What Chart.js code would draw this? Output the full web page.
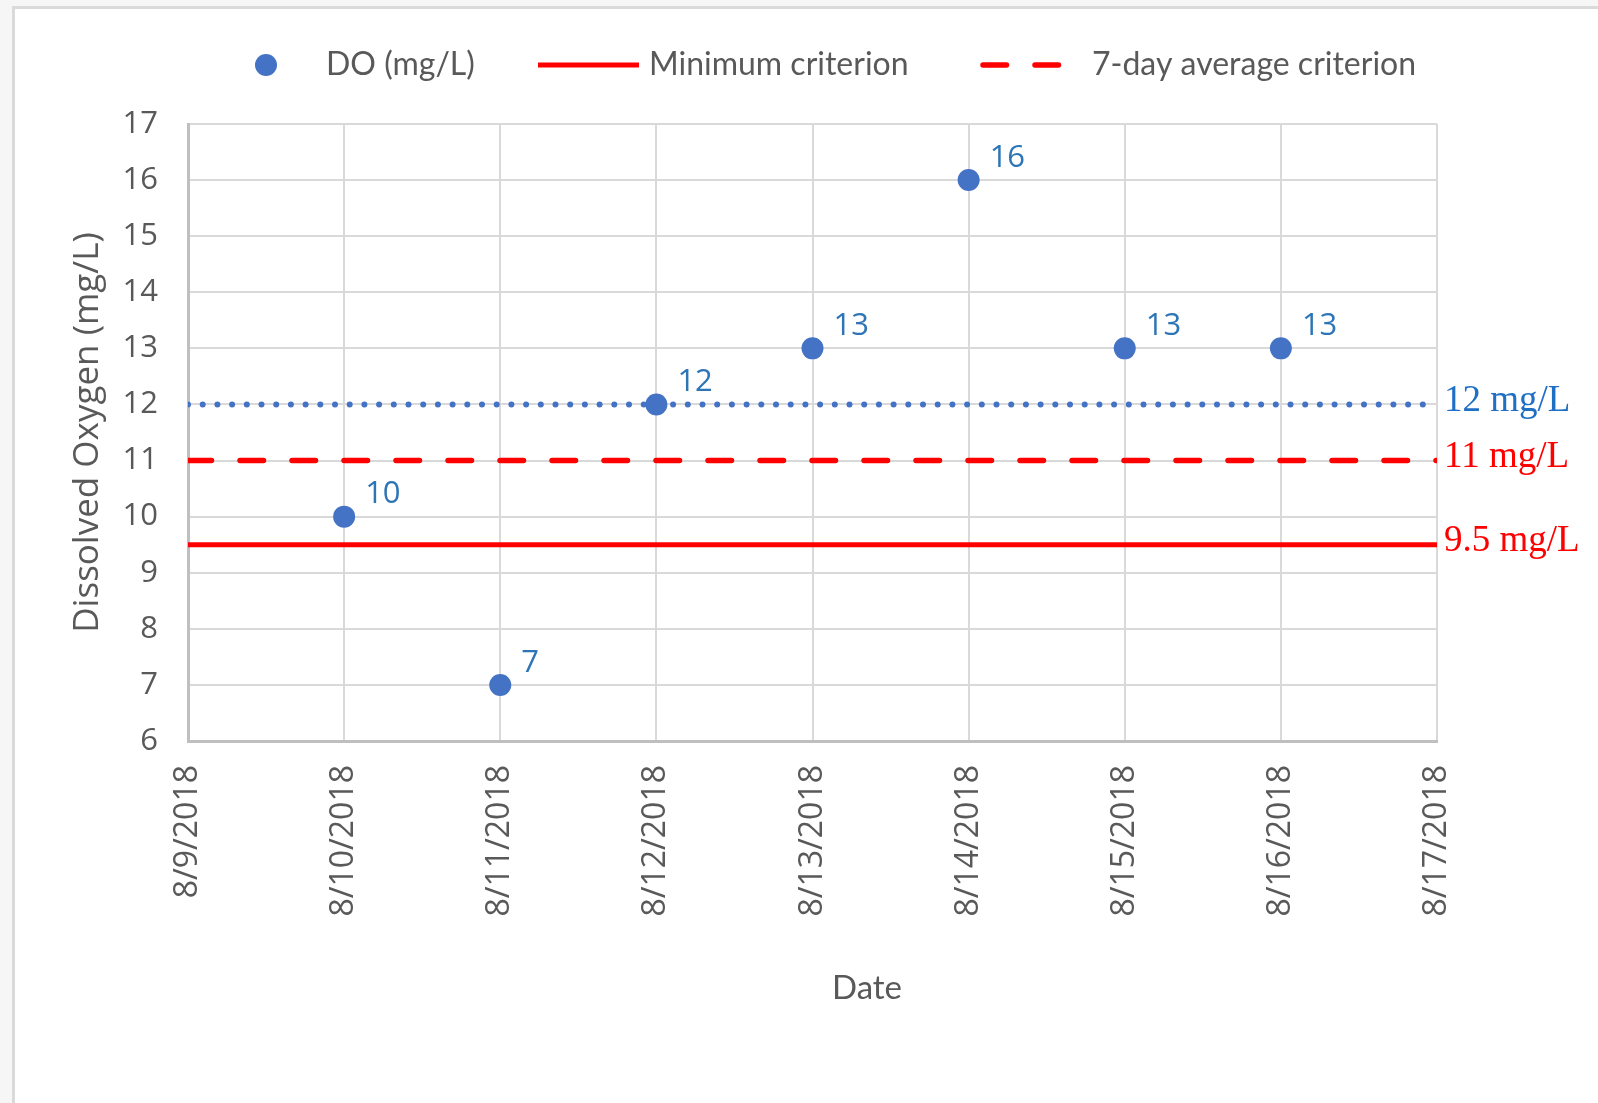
<!DOCTYPE html>
<html>
<head>
<meta charset="utf-8">
<title>Dissolved Oxygen</title>
<script src="https://cdn.jsdelivr.net/npm/chart.js@4.4.1/dist/chart.umd.min.js"></script>
<style>
    html, body { margin: 0; padding: 0; background: #ffffff; }
    #marco { position: absolute; left: 0; top: 0; width: 1598px; height: 1103px; background: #f6f6f6; overflow: hidden; }
    #borde { position: absolute; left: 12px; top: 6px; right: 0; bottom: 0; background: #ffffff; border-top: 3px solid #dadada; border-left: 3px solid #dadada; }
    #contenedor { position: absolute; left: 0; top: 0; width: 1598px; height: 1103px; }
</style>
</head>
<body>
<div id="marco">
    <div id="borde"></div>
    <div id="contenedor"><canvas id="grafica"></canvas></div>
</div>
<script>
const fechas = ["8/9/2018", "8/10/2018", "8/11/2018", "8/12/2018", "8/13/2018", "8/14/2018", "8/15/2018", "8/16/2018", "8/17/2018"];
const fechasOD = ["8/10/2018", "8/11/2018", "8/12/2018", "8/13/2018", "8/14/2018", "8/15/2018", "8/16/2018"];
const valoresOD = [10, 7, 12, 13, 16, 13, 13];

const criterioMinimo = 9.5;
const criterioPromedio = 11;
const referencia = 12;

const yMin = 6;
const yMax = 17;

const gris = "#595959";
const rojo = "#ff0000";
const azul = "#4472c4";

// linea horizontal de un extremo al otro del eje de fechas
function lineaHorizontal(valor){
    return [
        { x: 0, y: valor },
        { x: fechas.length - 1, y: valor }
    ];
}

const puntosOD = fechasOD.map((f, i) => ({ x: fechas.indexOf(f), y: valoresOD[i] }));

// etiquetas de datos y textos a la derecha de las lineas
const etiquetas = {
    id: "etiquetas",
    afterDatasetsDraw(chart){
        const ctx = chart.ctx;
        const area = chart.chartArea;
        const escalaY = chart.scales.y;
        ctx.save();

        ctx.font = '31px "Open Sans"';
        ctx.fillStyle = "#2e75b6";
        ctx.textAlign = "left";
        ctx.textBaseline = "middle";
        chart.getDatasetMeta(0).data.forEach((punto, i) => {
            ctx.fillText(String(valoresOD[i]), punto.x + 21, punto.y - 22);
        });

        ctx.font = '37px "Liberation Serif"';
        [1, 2, 3].forEach((indice) => {
            const ds = chart.data.datasets[indice];
            const valor = ds.data[0].y;
            ctx.fillStyle = ds.etiquetaColor;
            ctx.fillText(valor + " mg/L", area.right + 7, escalaY.getPixelForValue(valor) - 3);
        });

        ctx.restore();
    },
    afterDraw(chart){
        const ctx = chart.ctx;
        const ds = chart.data.datasets;
        const yLeyenda = 65;
        ctx.save();
        ctx.textAlign = "left";
        ctx.textBaseline = "middle";
        ctx.font = '32px "Lato"';
        ctx.fillStyle = gris;

        // DO
        ctx.beginPath();
        ctx.arc(266, yLeyenda, 11, 0, Math.PI * 2);
        ctx.fillStyle = ds[0].backgroundColor;
        ctx.fill();
        ctx.fillStyle = gris;
        ctx.fillText(ds[0].label, 326, yLeyenda);

        // minimo
        ctx.strokeStyle = ds[1].borderColor;
        ctx.lineWidth = ds[1].borderWidth;
        ctx.beginPath();
        ctx.moveTo(538, yLeyenda);
        ctx.lineTo(639, yLeyenda);
        ctx.stroke();
        ctx.fillText(ds[1].label, 649, yLeyenda);

        // promedio 7 dias
        ctx.strokeStyle = ds[2].borderColor;
        ctx.lineWidth = ds[2].borderWidth;
        ctx.lineCap = "round";
        ctx.setLineDash(ds[2].borderDash);
        ctx.beginPath();
        ctx.moveTo(983, yLeyenda);
        ctx.lineTo(1062, yLeyenda);
        ctx.stroke();
        ctx.setLineDash([]);
        ctx.fillText(ds[2].label, 1092, yLeyenda);

        // titulo del eje x
        ctx.textAlign = "center";
        ctx.font = '33px "Lato"';
        ctx.fillText("Date", 867, 988);
        ctx.restore();
    }
};

const ctx = document.getElementById("grafica").getContext("2d");

const grafica = new Chart(ctx, {
    type: "scatter",
    data: {
        datasets: [
            {
                label: "DO (mg/L)",
                data: puntosOD,
                backgroundColor: azul,
                borderWidth: 0,
                pointRadius: 11,
                pointHoverRadius: 11,
                showLine: false
            },
            {
                label: "Minimum criterion",
                type: "line",
                data: lineaHorizontal(criterioMinimo),
                borderColor: rojo,
                borderWidth: 5,
                pointRadius: 0,
                fill: false,
                etiquetaColor: rojo
            },
            {
                label: "7-day average criterion",
                type: "line",
                data: lineaHorizontal(criterioPromedio),
                borderColor: rojo,
                borderWidth: 5.5,
                borderDash: [23.5, 28.5],
                borderCapStyle: "round",
                pointRadius: 0,
                fill: false,
                etiquetaColor: rojo
            },
            {
                label: "12 mg/L",
                type: "line",
                data: lineaHorizontal(referencia),
                borderColor: azul,
                borderWidth: 6,
                borderDash: [0, 14.7],
                borderCapStyle: "round",
                pointRadius: 0,
                fill: false,
                etiquetaColor: "#1f6fc5"
            }
        ]
    },
    options: {
        responsive: true,
        maintainAspectRatio: false,
        animation: false,
        layout: {
            padding: { top: 124, right: 161, bottom: 0, left: 0 }
        },
        plugins: {
            legend: { display: false },
            tooltip: { enabled: false }
        },
        scales: {
            x: {
                type: "linear",
                min: 0,
                max: fechas.length - 1,
                afterFit: (escala) => { escala.height = 362; },
                grid: { color: "#d9d9d9", lineWidth: 2, drawTicks: false },
                border: { color: "#bfbfbf", width: 3 },
                ticks: {
                    stepSize: 1,
                    autoSkip: false,
                    minRotation: 90,
                    maxRotation: 90,
                    padding: 24,
                    color: gris,
                    font: { family: "Open Sans", size: 32 },
                    callback: (valor) => fechas[valor]
                }
            },
            y: {
                min: yMin,
                max: yMax,
                afterFit: (escala) => { escala.width = 188; },
                grid: { color: "#d9d9d9", lineWidth: 2, drawTicks: false },
                border: { color: "#bfbfbf", width: 3 },
                ticks: {
                    stepSize: 1,
                    padding: 30,
                    color: gris,
                    font: { family: "Open Sans", size: 31 }
                },
                title: {
                    display: true,
                    text: "Dissolved Oxygen (mg/L)",
                    color: gris,
                    font: { family: "Open Sans", size: 35 },
                    padding: { top: 67, bottom: 0 }
                }
            }
        }
    },
    plugins: [etiquetas]
});
</script>
</body>
</html>
